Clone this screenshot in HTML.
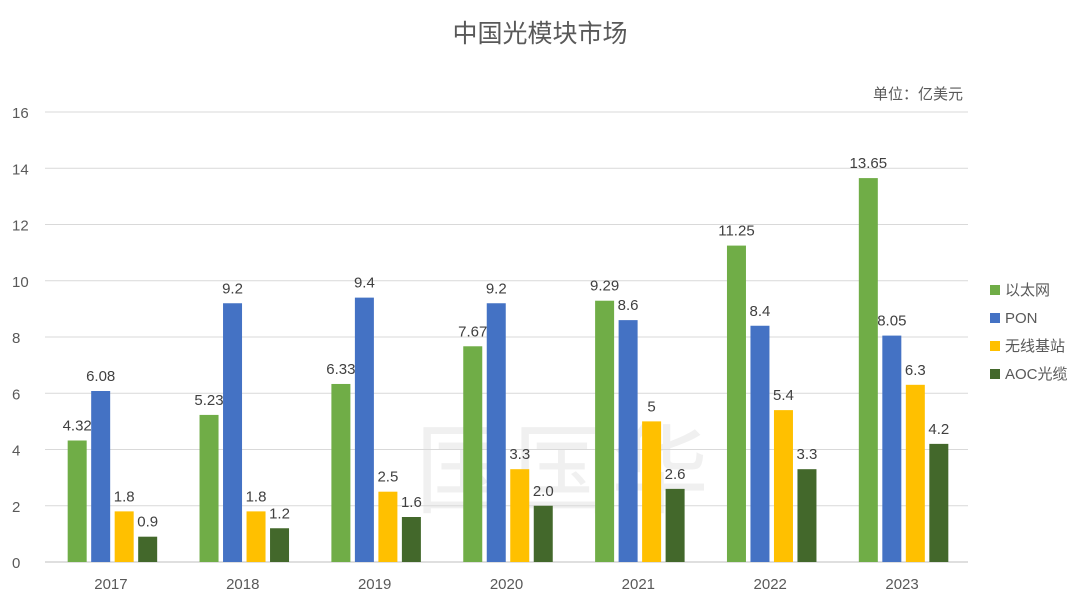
<!DOCTYPE html>
<html><head><meta charset="utf-8"><style>
body{margin:0;background:#fff;}
svg text{font-family:"Liberation Sans","Noto Sans CJK SC",sans-serif;}
</style></head><body>
<svg id="chart" width="1080" height="608" xmlns="http://www.w3.org/2000/svg">
<text x="540" y="42" font-size="25" fill="#595959" text-anchor="middle">中国光模块市场</text>
<text x="963" y="99" font-size="15" fill="#595959" text-anchor="end">单位：亿美元</text>
<text x="562" y="505" font-size="98" fill="#000" fill-opacity="0.06" text-anchor="middle">国国华</text>
<g id="grid"></g><g id="bars"></g><g id="legend"></g>
</svg>
<script>
const categories=["2017","2018","2019","2020","2021","2022","2023"];
const seriesNames=["以太网","PON","无线基站","AOC光缆"];
const ethernet=[4.32,5.23,6.33,7.67,9.29,11.25,13.65];
const pon=[6.08,9.2,9.4,9.2,8.6,8.4,8.05];
const wireless=[1.8,1.8,2.5,3.3,5,5.4,6.3];
const aoc=[0.9,1.2,1.6,2.0,2.6,3.3,4.2];
const ethernetLabels=["4.32","5.23","6.33","7.67","9.29","11.25","13.65"];
const ponLabels=["6.08","9.2","9.4","9.2","8.6","8.4","8.05"];
const wirelessLabels=["1.8","1.8","2.5","3.3","5","5.4","6.3"];
const aocLabels=["0.9","1.2","1.6","2.0","2.6","3.3","4.2"];
const yTicks=[0,2,4,6,8,10,12,14,16];
const colors=["#70ad47","#4472c4","#ffc000","#43682b"];
const NS="http://www.w3.org/2000/svg";
const x0=45,x1=968,yB=562,yT=112,yMax=16;
const y=v=>yB-(v/yMax)*(yB-yT);
const band=(x1-x0)/categories.length;
const bw=19,gap=4.5;
function mk(tag,attrs,parent){const e=document.createElementNS(NS,tag);for(const k in attrs)e.setAttribute(k,attrs[k]);parent.appendChild(e);return e;}
const grid=document.getElementById('grid');
yTicks.forEach(t=>{
  const l=mk('line',{x1:x0,x2:x1,y1:y(t),y2:y(t),stroke:t===0?'#bfbfbf':'#d9d9d9','stroke-width':1},grid);
  
  
  const tx=mk('text',{x:12,y:y(t)+6,'font-size':15,fill:'#595959'},grid);tx.textContent=t;
  
  
});
categories.forEach((c,i)=>{
  const tx=mk('text',{x:x0+band*(i+0.5),y:589,'font-size':15,fill:'#595959','text-anchor':'middle'},grid);tx.textContent=c;
  
  
});
const series=[ethernet,pon,wireless,aoc];
const labels=[ethernetLabels,ponLabels,wirelessLabels,aocLabels];
const bars=document.getElementById('bars');
const groupW=4*bw+3*gap;
series.forEach((s,si)=>{
  s.forEach((v,i)=>{
    const bx=x0+band*(i+0.5)-groupW/2+si*(bw+gap)+1.5;
    const r=mk('rect',{x:bx,y:y(v),width:bw,height:yB-y(v),fill:colors[si]},bars);
    
    
    const tx=mk('text',{x:bx+bw/2,y:y(v)-10,'font-size':15,fill:'#404040','text-anchor':'middle'},bars);
    tx.textContent=labels[si][i];
    
    
  });
});
const lg=document.getElementById('legend');
seriesNames.forEach((n,i)=>{
  const yy=290+i*28;
  const r=mk('rect',{x:990,y:yy-5,width:10,height:10,fill:colors[i]},lg);
  
  
  const tx=mk('text',{x:1005,y:yy+5,'font-size':15,fill:'#595959'},lg);tx.textContent=n;
  
  
});
</script>
</body></html>
